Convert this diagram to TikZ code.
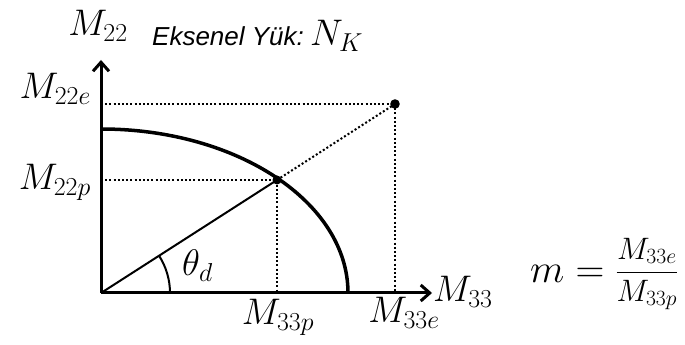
\RequirePackage{fix-cm}
\documentclass[tikz,border=0pt]{standalone}
\usepackage{fontspec}
\usetikzlibrary{arrows.meta}
\newfontfamily\labelfont{Liberation Sans}
\begin{document}
\begin{tikzpicture}[x=1pt,y=1pt,font=\fontsize{37}{42}\selectfont,
    axis/.style={line width=3pt,-{Straight Barb[length=9pt,width=16pt]}},
    guide/.style={line width=2pt,dash pattern=on 2pt off 2.2pt},
    lbl/.style={inner sep=0pt}]
        \useasboundingbox (0,0) rectangle (685,345);
        % Points
        \coordinate (O) at (101,52);
        \coordinate (ytip) at (101,285);
        \coordinate (xtip) at (432,52);
        \coordinate (top) at (101,216);
        \coordinate (P) at (277,165);
        \coordinate (E) at (395,241);
        \coordinate (ye) at (101,241);
        \coordinate (yp) at (101,165);
        \coordinate (xp) at (277,52);
        \coordinate (xe) at (395,52);
        % Draw the dotted guides
        \draw[guide] (ye) -- (E) -- (xe);
        \draw[guide] (yp) -- (P) -- (xp);
        \draw[guide] (P) -- (E);
        % Draw the ray and the angle
        \draw[line width=2pt] (O) -- (P);
        \draw[line width=2pt] (O) ++(69,0) arc[start angle=0,end angle=32.8,radius=69];
        % Draw the interaction curve
        \draw[line width=3.5pt] (top) arc[start angle=90,end angle=0,x radius=247,y radius=164];
        % Draw the axes
        \draw[axis] (O) -- (ytip);
        \draw[axis] (O) -- (xtip);
        % Draw the points
        \fill (P) circle (4.5pt);
        \fill (E) circle (4.8pt);
        % Label the axes
        \node[lbl,anchor=base] (m22) at (98,309) {$M_{22}$};
        \node[lbl,anchor=base west] (m33) at (433,43) {$M_{33}$};
        \node[lbl,anchor=base west] (load) at (152,299) {{\labelfont\itshape\fontsize{26}{30}\selectfont Eksenel Yük:}\,$N_K$};
        % Label the values
        \node[lbl,anchor=base east] (m22e) at (91,246) {$M_{22e}$};
        \node[lbl,anchor=base east] (m22p) at (91,155) {$M_{22p}$};
        \node[lbl,anchor=base] (m33p) at (278,20) {$M_{33p}$};
        \node[lbl,anchor=base] (m33e) at (404,22) {$M_{33e}$};
        \node[lbl,anchor=base west] (theta) at (182,69) {$\theta_d$};
        % Ratio
        \node[lbl,anchor=base west,font=\fontsize{40}{44}\selectfont] (ratio) at (530,62)
            {$m={}$\fontsize{31}{34}\selectfont\raisebox{3pt}{$\displaystyle\frac{M_{33e}}{M_{33p}}$}};
    \end{tikzpicture}
\end{document}
